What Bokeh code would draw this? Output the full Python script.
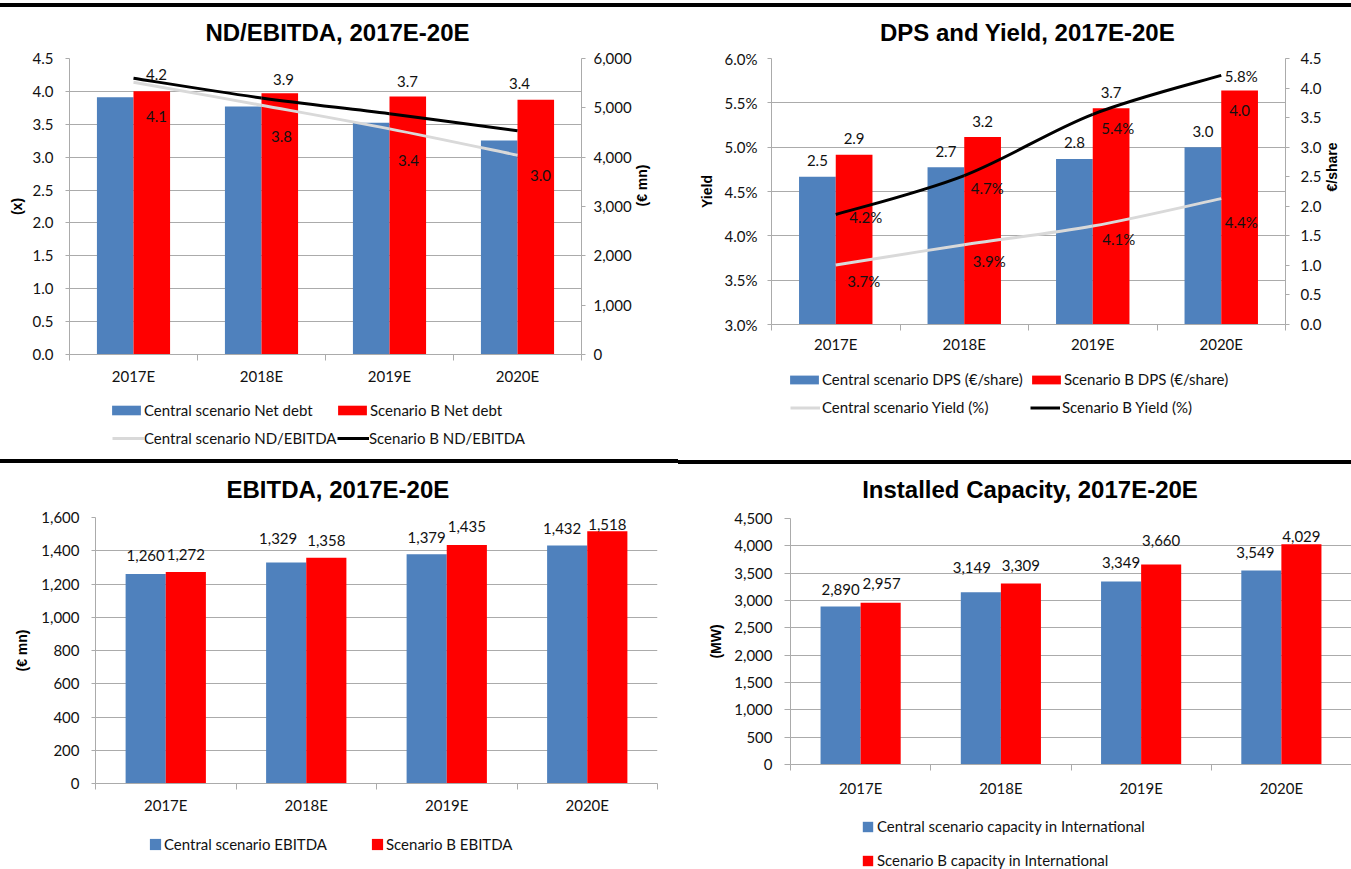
import math
import numpy as np
from bokeh.plotting import figure
from bokeh.models import (Range1d, LinearAxis, FixedTicker, PrintfTickFormatter, NumeralTickFormatter,
                          ColumnDataSource, LabelSet, Legend, LegendItem, Div, Grid)
from bokeh.layouts import column, row
from bokeh.core.properties import value
from bokeh.embed import file_html
from bokeh.resources import INLINE

# ---------------- data ----------------
categories = ["2017E", "2018E", "2019E", "2020E"]

# ND/EBITDA chart
net_debt_central = [5216, 5027, 4696, 4338]      # EUR mn (right axis)
net_debt_scen_b = [5337, 5297, 5230, 5162]
nd_ebitda_central = [4.14, 3.79, 3.43, 3.03]     # x (left axis)
nd_ebitda_scen_b = [4.20, 3.90, 3.66, 3.40]

# DPS and Yield chart
dps_central = [2.50, 2.66, 2.80, 3.00]           # EUR/share (right axis)
dps_scen_b = [2.87, 3.17, 3.66, 3.96]
yield_central = [3.67, 3.90, 4.11, 4.42]         # % (left axis)
yield_scen_b = [4.24, 4.68, 5.37, 5.81]

# EBITDA chart
ebitda_central = [1260, 1329, 1379, 1432]
ebitda_scen_b = [1272, 1358, 1435, 1518]

# Installed capacity chart
capacity_central = [2890, 3149, 3349, 3549]
capacity_scen_b = [2957, 3309, 3660, 4029]

# ---------------- label nudges (pixels) ----------------
c1_black_dx = [23, 22, 18, 2]
c1_black_dy = [4, 18, 32, 47]
c1_gray_dx = [23, 20, 19, 23]
c1_gray_dy = [-34, -31, -32, -20]
c2_black_dx = [30, 23, 25, 20]
c2_black_dy = [-2, -12, -14, -1]
c2_gray_dx = [28, 25, 26, 20]
c2_gray_dy = [-16, -16, -13, -23]
c2_blue_dy = [16, 16, 16, 16]
c2_red_dy = [16, 16, 16, -20]
c3_blue_dx = [0, -8, 0, -5]
c3_blue_dy = [19, 24, 17, 17]
c3_red_dx = [0, 0, 0, 0]
c3_red_dy = [18, 17, 18, 7]
c4_blue_dx = [0, -9, 0, -6]
c4_blue_dy = [17, 25, 19, 18]
c4_red_dx = [1, 0, 0, 0]
c4_red_dy = [19, 18, 24, 8]

# ---------------- style ----------------
BLUE = "#4F81BD"
RED = "#FF0000"
GRID = "#ABABAB"
LGRAY = "#D9D9D9"
TXT = "#111111"
FONT = "Lato"
TFONT = "Liberation Sans"
FS = "15px"
BAR_W = 1 / 3.5

n = len(categories)
xc = [i + 0.5 for i in range(n)]
x_blue = [c - BAR_W / 2 for c in xc]
x_red = [c + BAR_W / 2 for c in xc]


def base(w, h, bl, br, bt, bb, xr, yr):
    p = figure(width=w, height=h, x_range=xr, y_range=yr,
               x_axis_type=None, y_axis_type=None, output_backend="svg",
               toolbar_location=None, title_location=None,
               min_border_left=bl, min_border_right=br,
               min_border_top=bt, min_border_bottom=bb)
    p.outline_line_color = None
    p.background_fill_color = "white"
    p.border_fill_color = "white"
    return p


def title_fig(w, h, bl, br, text, cx, base_y):
    p = base(w, h, bl, br, 0, 0, Range1d(0, w - bl - br), Range1d(0, h))
    p.text(x=[cx], y=[base_y], text=[text], text_font=value(TFONT), text_font_size="24px",
           text_font_style="bold", text_align="center", text_baseline="alphabetic",
           text_color="black")
    return p


def legend_fig(w, h, bl, br):
    return base(w, h, bl, br, 0, 0, Range1d(0, w - bl - br), Range1d(0, h))


def add_xaxis(p, standoff=6):
    xt = FixedTicker(ticks=xc, minor_ticks=list(range(n + 1)))
    ax = LinearAxis(ticker=xt, major_label_overrides={c: cat for c, cat in zip(xc, categories)})
    ax.axis_line_color = GRID
    ax.major_tick_line_color = None
    ax.major_tick_out = 0
    ax.major_tick_in = 0
    ax.minor_tick_line_color = GRID
    ax.minor_tick_in = 0
    ax.minor_tick_out = 6
    ax.major_label_standoff = standoff
    ax.major_label_text_font = FONT
    ax.major_label_text_font_size = FS
    ax.major_label_text_color = TXT
    p.add_layout(ax, "below")


def add_yaxis(p, side, ticks, fmt, label, tick_out=4, standoff=12, lstand=6, range_name="default", grid=False):
    ax = LinearAxis(ticker=FixedTicker(ticks=ticks), formatter=fmt, y_range_name=range_name)
    ax.axis_line_color = GRID
    ax.major_tick_line_color = GRID
    ax.major_tick_in = 0
    ax.major_tick_out = tick_out
    ax.minor_tick_line_color = None
    ax.major_label_standoff = standoff
    ax.major_label_text_font = FONT
    ax.major_label_text_font_size = FS
    ax.major_label_text_color = TXT
    ax.axis_label = label
    ax.axis_label_standoff = lstand
    ax.axis_label_text_font = TFONT
    ax.axis_label_text_font_style = "bold"
    ax.axis_label_text_font_size = "14px"
    ax.axis_label_text_color = "black"
    if side == "right":
        try:
            ax.axis_label_orientation = math.pi / 2
        except Exception:
            pass
    p.add_layout(ax, side)
    if grid:
        p.add_layout(Grid(dimension=1, ticker=FixedTicker(ticks=ticks), grid_line_color=GRID,
                          grid_line_width=1, y_range_name=range_name))


def add_bars(p, xs, vals, color, range_name="default"):
    return p.vbar(x=xs, top=vals, width=BAR_W, bottom=0, fill_color=color, line_color=None,
                  y_range_name=range_name)


def add_smooth_line(p, ys, color, range_name="default"):
    d = dict(x0=[], y0=[], x1=[], y1=[], cx0=[], cy0=[], cx1=[], cy1=[])
    for i in range(n - 1):
        a = i - 1 if i > 0 else i
        b = i + 2 if i + 2 < n else i + 1
        d["x0"].append(xc[i]); d["y0"].append(ys[i])
        d["x1"].append(xc[i + 1]); d["y1"].append(ys[i + 1])
        d["cx0"].append(xc[i] + (xc[i + 1] - xc[a]) / 6)
        d["cy0"].append(ys[i] + (ys[i + 1] - ys[a]) / 6)
        d["cx1"].append(xc[i + 1] - (xc[b] - xc[i]) / 6)
        d["cy1"].append(ys[i + 1] - (ys[b] - ys[i]) / 6)
    return p.bezier(x0="x0", y0="y0", x1="x1", y1="y1", cx0="cx0", cy0="cy0", cx1="cx1", cy1="cy1",
                    source=ColumnDataSource(d), line_color=color, line_width=3,
                    y_range_name=range_name)


def add_labels(p, xs, ys, texts, dx, dy, range_name="default"):
    src = ColumnDataSource(dict(x=xs, y=ys, t=texts, dx=dx, dy=dy))
    p.add_layout(LabelSet(x="x", y="y", text="t", x_offset="dx", y_offset="dy", source=src,
                          text_align="center", text_baseline="middle", text_font=value(FONT),
                          text_font_size=FS, text_color=TXT, y_range_name=range_name))


def swatch(p, kind, color):
    # legend key only: a single undefined (NaN) point, so nothing is drawn in the plot area
    nan = np.array([np.nan])
    if kind == "bar":
        return p.vbar(x=nan, top=nan, bottom=nan, width=1, fill_color=color, line_color=None)
    return p.line(x=np.array([np.nan, np.nan]), y=np.array([np.nan, np.nan]),
                  line_color=color, line_width=3)


def add_legend(p, entries, x, y, gw, gh, standoff, lw, orientation="horizontal", spacing=0):
    items = [LegendItem(label=value(lab), renderers=[swatch(p, kind, col)]) for kind, col, lab in entries]
    lg = Legend(items=items, location=(x, y), orientation=orientation,
                padding=0, margin=0, spacing=spacing,
                border_line_color=None, background_fill_alpha=0,
                glyph_width=gw, glyph_height=gh, label_standoff=standoff,
                label_text_font=FONT, label_text_font_size=FS, label_text_color=TXT,
                label_height=18, label_width=lw)
    p.add_layout(lg)


# ---------------- chart 1: ND/EBITDA ----------------
L1, R1 = 69, 97
t1 = title_fig(678, 40, L1, R1, "ND/EBITDA, 2017E-20E", 268, 14.7)
m1 = base(678, 343, L1, R1, 11, 36, Range1d(0, n), Range1d(0, 4.5))
m1.extra_y_ranges = {"right": Range1d(0, 6000)}
add_yaxis(m1, "left", [i * 0.5 for i in range(10)], PrintfTickFormatter(format="%.1f"), "(x)",
          tick_out=4, standoff=12, lstand=5, grid=True)
add_yaxis(m1, "right", [i * 1000 for i in range(7)], NumeralTickFormatter(format="0,0"), "(€ mn)",
          tick_out=4, standoff=8, lstand=7, range_name="right")
add_xaxis(m1, 6)
add_bars(m1, x_blue, net_debt_central, BLUE, "right")
add_bars(m1, x_red, net_debt_scen_b, RED, "right")
add_smooth_line(m1, nd_ebitda_central, LGRAY)
add_smooth_line(m1, nd_ebitda_scen_b, "black")
add_labels(m1, xc, nd_ebitda_scen_b, [f"{v:.1f}" for v in nd_ebitda_scen_b], c1_black_dx, c1_black_dy)
add_labels(m1, xc, nd_ebitda_central, [f"{v:.1f}" for v in nd_ebitda_central], c1_gray_dx, c1_gray_dy)
l1 = legend_fig(678, 69, L1, R1)
add_legend(l1, [("bar", BLUE, "Central scenario Net debt"), ("bar", RED, "Scenario B Net debt")],
           39, 40, 36, 12, 0, 190)
add_legend(l1, [("line", LGRAY, "Central scenario ND/EBITDA"), ("line", "black", "Scenario B ND/EBITDA")],
           43, 12, 32, 12, 0, 193)

# ---------------- chart 2: DPS and Yield ----------------
L2, R2 = 93, 61
t2 = title_fig(673, 40, L2, R2, "DPS and Yield, 2017E-20E", 258.5, 14.7)
m2 = base(673, 313, L2, R2, 11, 36, Range1d(0, n), Range1d(3.0, 6.0))
m2.extra_y_ranges = {"right": Range1d(0, 4.5)}
add_yaxis(m2, "left", [3.0 + i * 0.5 for i in range(7)], PrintfTickFormatter(format="%.1f%%"), "Yield",
          tick_out=4, standoff=10, lstand=7, grid=True)
add_yaxis(m2, "right", [i * 0.5 for i in range(10)], PrintfTickFormatter(format="%.1f"), "€/share",
          tick_out=4, standoff=11, lstand=8, range_name="right")
add_xaxis(m2, 4)
add_bars(m2, x_blue, dps_central, BLUE, "right")
add_bars(m2, x_red, dps_scen_b, RED, "right")
add_smooth_line(m2, yield_central, LGRAY)
add_smooth_line(m2, yield_scen_b, "black")
add_labels(m2, x_blue, dps_central, [f"{v:.1f}" for v in dps_central], [0] * n, c2_blue_dy, "right")
add_labels(m2, x_red, dps_scen_b, [f"{v:.1f}" for v in dps_scen_b], [0] * n, c2_red_dy, "right")
add_labels(m2, xc, yield_scen_b, [f"{v:.1f}%" for v in yield_scen_b], c2_black_dx, c2_black_dy)
add_labels(m2, xc, yield_central, [f"{v:.1f}%" for v in yield_central], c2_gray_dx, c2_gray_dy)
l2 = legend_fig(673, 99, L2, R2)
add_legend(l2, [("bar", BLUE, "Central scenario DPS (€/share)"), ("bar", RED, "Scenario B DPS (€/share)")],
           15, 71, 36, 11, 0, 206)
add_legend(l2, [("line", LGRAY, "Central scenario Yield (%)"), ("line", "black", "Scenario B Yield (%)")],
           19, 43, 30, 11, 2, 208)

# ---------------- chart 3: EBITDA ----------------
L3, R3 = 95, 21
t3 = title_fig(678, 42, L3, R3, "EBITDA, 2017E-20E", 242.4, 16.7)
m3 = base(678, 313, L3, R3, 11, 36, Range1d(0, n), Range1d(0, 1600))
add_yaxis(m3, "left", [i * 200 for i in range(9)], NumeralTickFormatter(format="0,0"), "(€ mn)",
          tick_out=4, standoff=12, lstand=8, grid=True)
add_xaxis(m3, 6)
add_bars(m3, x_blue, ebitda_central, BLUE)
add_bars(m3, x_red, ebitda_scen_b, RED)
add_labels(m3, x_blue, ebitda_central, [f"{v:,}" for v in ebitda_central], c3_blue_dx, c3_blue_dy)
add_labels(m3, x_red, ebitda_scen_b, [f"{v:,}" for v in ebitda_scen_b], c3_red_dx, c3_red_dy)
l3 = legend_fig(678, 50, L3, R3)
add_legend(l3, [("bar", BLUE, "Central scenario EBITDA"), ("bar", RED, "Scenario B EBITDA")],
           53, 16, 14, 14, 2, 206)

# ---------------- chart 4: Installed Capacity ----------------
L4, R4 = 112, 0
t4 = title_fig(673, 42, L4, R4, "Installed Capacity, 2017E-20E", 239.5, 17)
m4 = base(673, 294, L4, R4, 12, 36, Range1d(0, n), Range1d(0, 4500))
add_yaxis(m4, "left", [i * 500 for i in range(10)], NumeralTickFormatter(format="0,0"), "(MW)",
          tick_out=6, standoff=12, lstand=7, grid=True)
add_xaxis(m4, 8)
add_bars(m4, x_blue, capacity_central, BLUE)
add_bars(m4, x_red, capacity_scen_b, RED)
add_labels(m4, x_blue, capacity_central, [f"{v:,}" for v in capacity_central], c4_blue_dx, c4_blue_dy)
add_labels(m4, x_red, capacity_scen_b, [f"{v:,}" for v in capacity_scen_b], c4_red_dx, c4_red_dy)
l4 = legend_fig(673, 69, L4, R4)
add_legend(l4, [("bar", BLUE, "Central scenario capacity in International"),
                ("bar", RED, "Scenario B capacity in International")],
           71, 0, 13, 13, 3, 20, orientation="vertical", spacing=16)


def bar(w, h, color):
    return Div(width=w, height=h, margin=0, styles={"background-color": color})


layout = column(
    Div(width=1351, height=3, margin=0),
    bar(1351, 4, "black"),
    row(column(t1, m1, l1), column(t2, m2, l2)),
    row(bar(678, 4, "black"), column(Div(width=673, height=1, margin=0), bar(673, 4, "black"))),
    row(column(t3, m3, l3), column(t4, m4, l4)),
)

open("out.html", "w").write(file_html(layout, INLINE))
